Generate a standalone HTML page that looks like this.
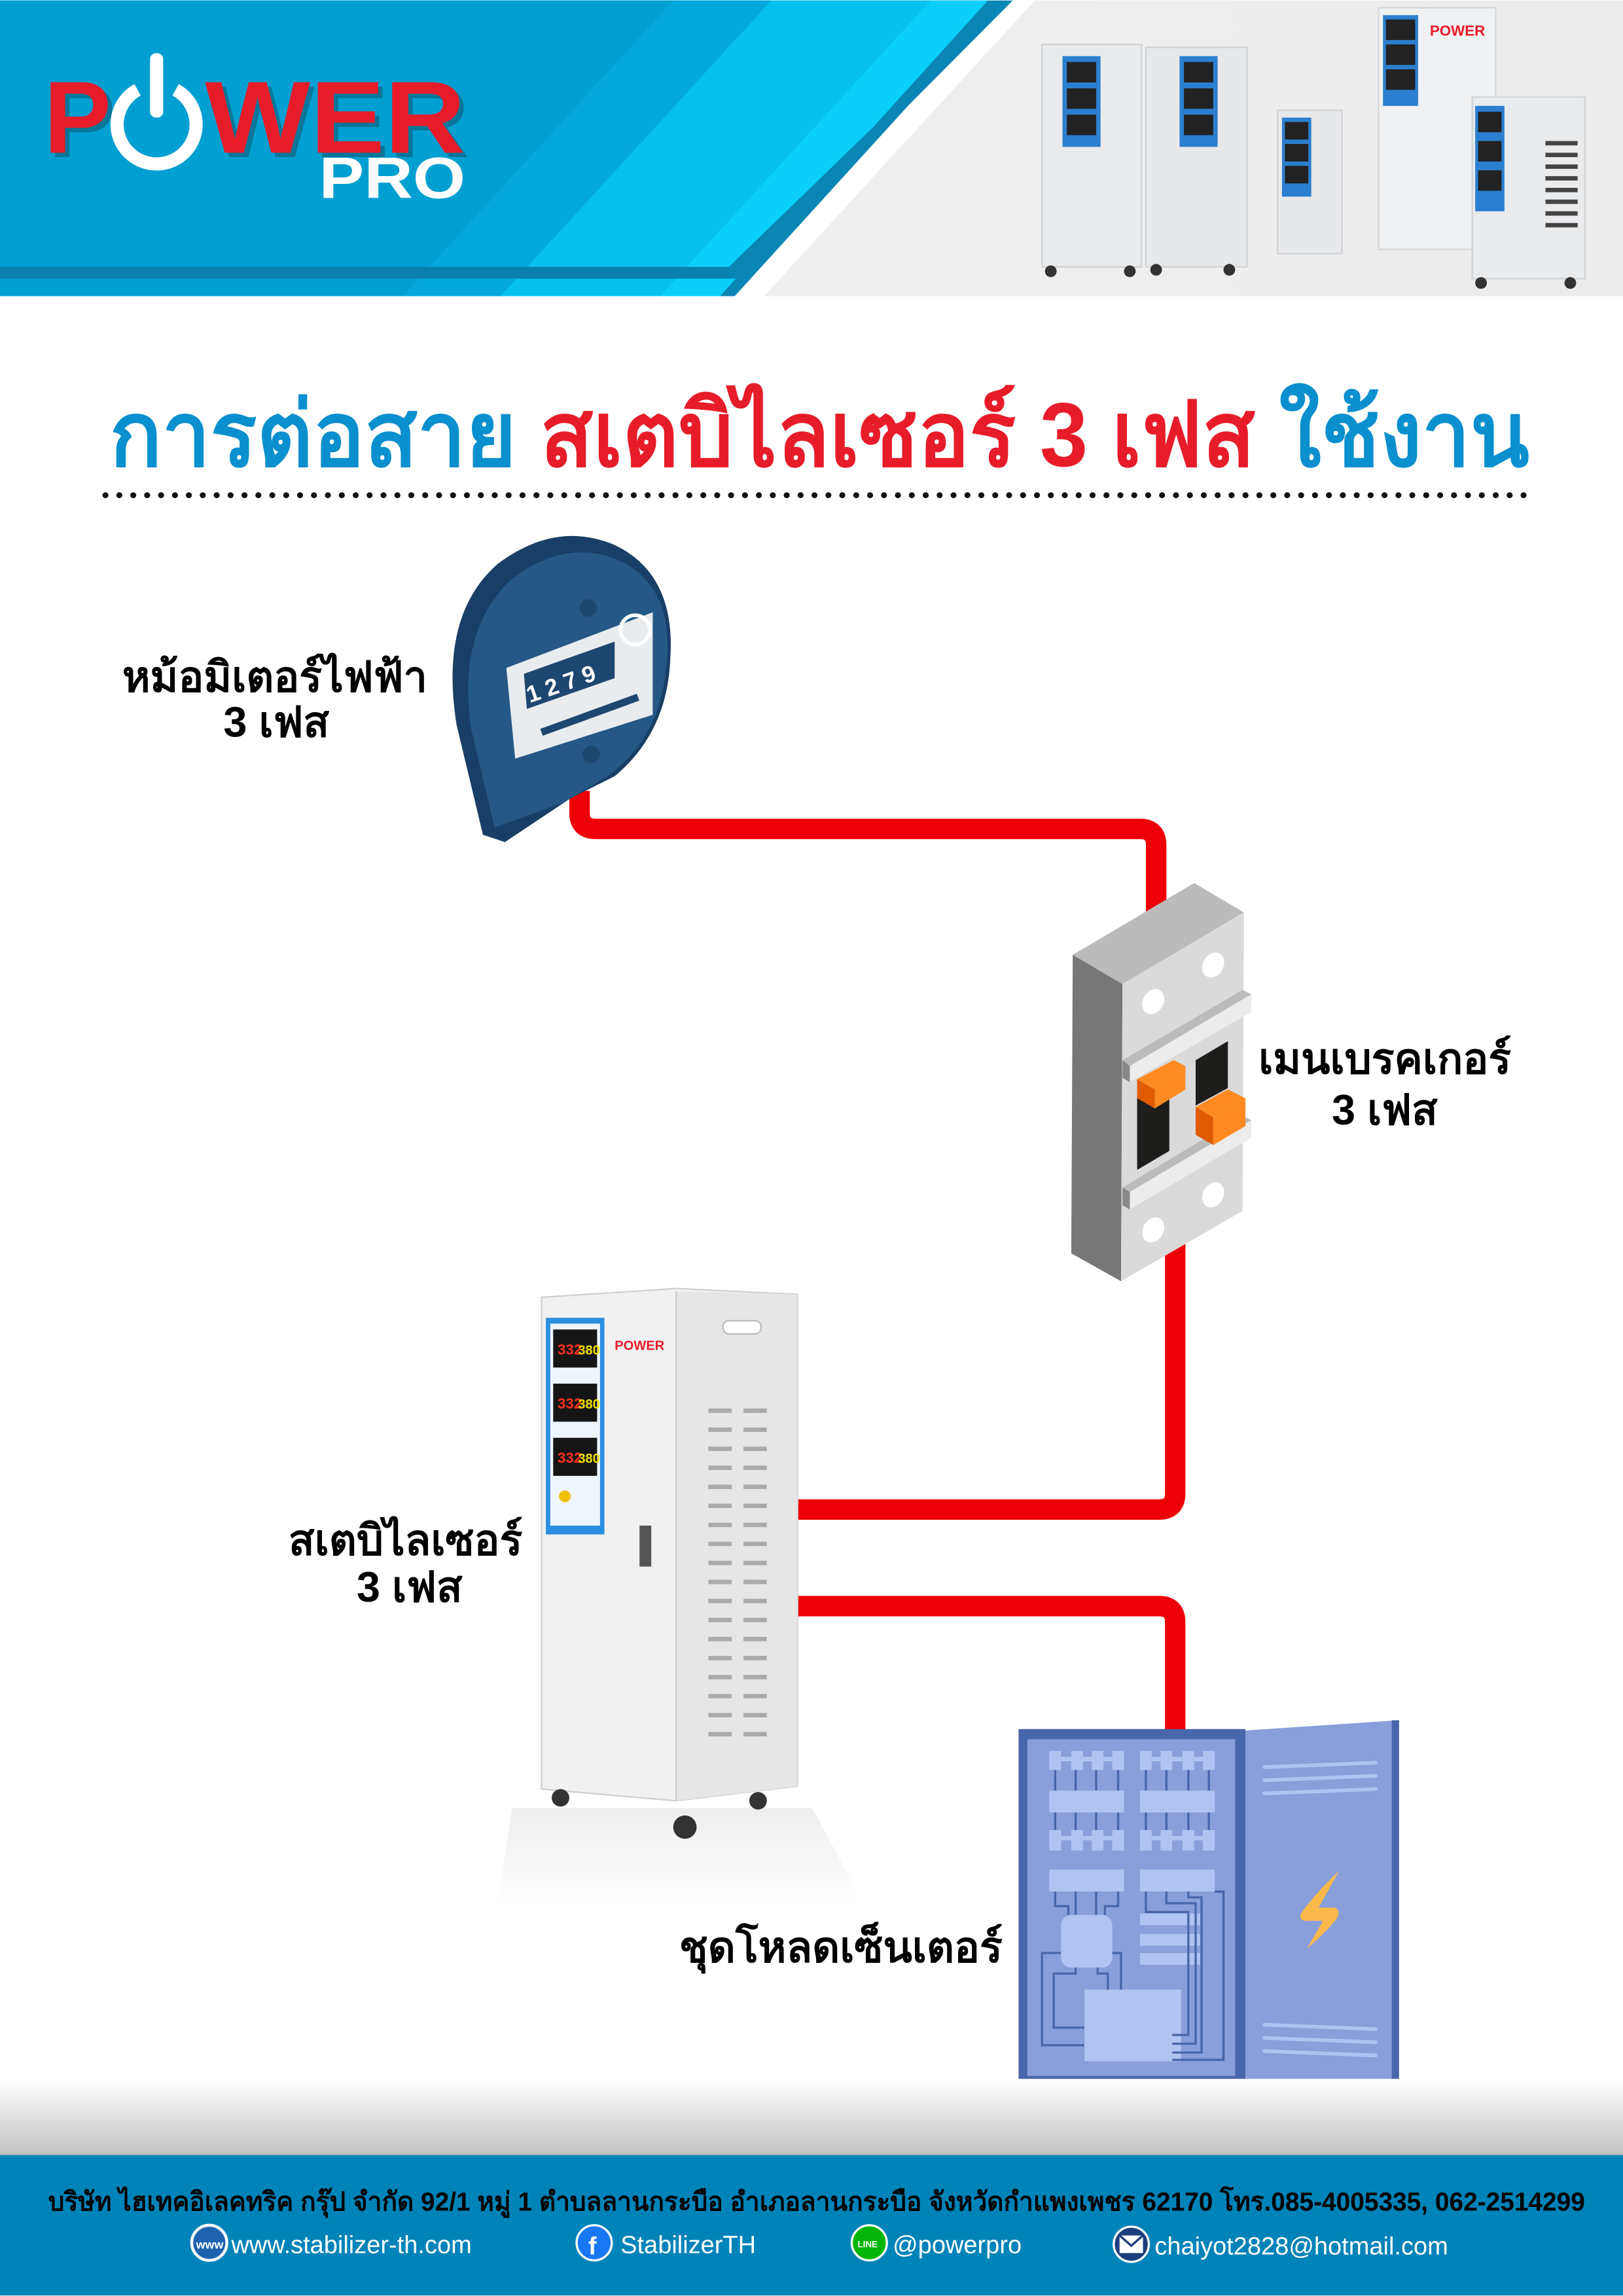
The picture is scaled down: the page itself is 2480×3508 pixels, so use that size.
<!DOCTYPE html>
<html><head><meta charset="utf-8"><style>
html,body{margin:0;padding:0;background:#fff}
svg{display:block}
text{font-family:"Liberation Sans","DejaVu Sans",sans-serif;font-weight:bold}
</style></head><body>
<svg width="2480" height="3508" viewBox="0 0 1109 1568" xmlns="http://www.w3.org/2000/svg">
<defs>
<linearGradient id="fg" x1="0" y1="0" x2="0" y2="1"><stop offset="0" stop-color="#fff"/><stop offset="1" stop-color="#c2c2c2"/></linearGradient>
<linearGradient id="hg" x1="0" y1="0" x2="1" y2="0"><stop offset="0" stop-color="#f2f2f2"/><stop offset="1" stop-color="#ececec"/></linearGradient>
<linearGradient id="sh" x1="0" y1="0" x2="0" y2="1"><stop offset="0" stop-color="#eeeeee"/><stop offset="1" stop-color="#ffffff"/></linearGradient>
</defs>
<!-- header -->
<rect x="0" y="0" width="1109" height="202" fill="url(#hg)"/>
<polygon points="0,0 707,0 522,202 0,202" fill="#ffffff"/>
<polygon points="0,0 686,0 502,202 0,202" fill="#0a86b4"/>
<polygon points="0,0 675,0 492,202 0,202" fill="#0bcffa"/>
<polygon points="0,0 636,0 451,202 0,202" fill="#07c0ee"/>
<polygon points="0,0 527,0 342,202 0,202" fill="#03a8dc"/>
<polygon points="0,0 460,0 275,202 0,202" fill="#009fd2"/>
<rect x="0" y="182" width="500" height="8" fill="#0a80ad"/>
<polygon points="498,182 686,0 692,0 503,190 498,190" fill="#0a86b4"/>
<!-- logo -->
<g opacity="0.3" transform="translate(3,3)">
<text x="30" y="104" font-size="70" fill="#1a1a1a" textLength="46" lengthAdjust="spacingAndGlyphs">P</text>
<text x="140" y="104" font-size="70" fill="#1a1a1a" textLength="178" lengthAdjust="spacingAndGlyphs">WER</text>
</g>
<text x="30" y="104" font-size="70" fill="#e71c2a" textLength="46" lengthAdjust="spacingAndGlyphs">P</text>
<text x="140" y="104" font-size="70" fill="#e71c2a" textLength="178" lengthAdjust="spacingAndGlyphs">WER</text>
<path d="M94 61 A27 27 0 1 0 120 61" fill="none" stroke="#fff" stroke-width="9"/>
<rect x="102.5" y="36" width="9" height="44" rx="4" fill="#fff"/>
<text x="218" y="135" font-size="40" fill="#fff" textLength="100" lengthAdjust="spacingAndGlyphs">PRO</text>
<!-- products -->
<g>
<rect x="712" y="30" width="68" height="152" fill="#e8eaec" stroke="#cfd2d6"/>
<rect x="726" y="38" width="26" height="62" fill="#2b7fd0"/><rect x="729" y="42" width="20" height="14" fill="#222"/><rect x="729" y="60" width="20" height="14" fill="#222"/><rect x="729" y="78" width="20" height="14" fill="#222"/>
<rect x="783" y="32" width="69" height="150" fill="#e6e8ea" stroke="#cfd2d6"/>
<rect x="806" y="38" width="26" height="62" fill="#2b7fd0"/><rect x="809" y="42" width="20" height="14" fill="#222"/><rect x="809" y="60" width="20" height="14" fill="#222"/><rect x="809" y="78" width="20" height="14" fill="#222"/>
<rect x="873" y="75" width="44" height="98" fill="#e6e8ea" stroke="#cfd2d6"/>
<rect x="876" y="80" width="20" height="54" fill="#2b7fd0"/><rect x="878" y="83" width="16" height="12" fill="#222"/><rect x="878" y="98" width="16" height="12" fill="#222"/><rect x="878" y="113" width="16" height="12" fill="#222"/>
<rect x="942" y="5" width="80" height="165" fill="#f0f1f2" stroke="#d6d8da"/>
<rect x="945" y="10" width="24" height="62" fill="#2b7fd0"/><rect x="947" y="13" width="20" height="14" fill="#222"/><rect x="947" y="30" width="20" height="14" fill="#222"/><rect x="947" y="47" width="20" height="14" fill="#222"/>
<text x="977" y="24" font-size="10" fill="#e71c2a">POWER</text>
<rect x="1006" y="66" width="77" height="124" fill="#e9ebed" stroke="#cfd2d6"/>
<rect x="1008" y="72" width="20" height="72" fill="#2b7fd0"/><rect x="1010" y="76" width="16" height="14" fill="#222"/><rect x="1010" y="96" width="16" height="14" fill="#222"/><rect x="1010" y="116" width="16" height="14" fill="#222"/>
<g fill="#444"><rect x="1056" y="96" width="22" height="3"/><rect x="1056" y="104" width="22" height="3"/><rect x="1056" y="112" width="22" height="3"/><rect x="1056" y="120" width="22" height="3"/><rect x="1056" y="128" width="22" height="3"/><rect x="1056" y="136" width="22" height="3"/><rect x="1056" y="144" width="22" height="3"/><rect x="1056" y="152" width="22" height="3"/></g>
<g fill="#333"><circle cx="718" cy="185" r="4"/><circle cx="772" cy="185" r="4"/><circle cx="790" cy="184" r="4"/><circle cx="840" cy="184" r="4"/><circle cx="1012" cy="193" r="4"/><circle cx="1073" cy="193" r="4"/></g>
</g>
<!-- title -->
<text x="75" y="318" font-size="62" textLength="970" lengthAdjust="spacingAndGlyphs"><tspan fill="#0a8fcf">การต่อสาย </tspan><tspan fill="#e71c2a">สเตบิไลเซอร์ 3 เฟส </tspan><tspan fill="#0a8fcf">ใช้งาน</tspan></text>
<line x1="72" y1="338" x2="1045" y2="338" stroke="#111" stroke-width="4" stroke-linecap="round" stroke-dasharray="0.1 9.4"/>
<!-- wires -->
<g fill="none" stroke="#ee0008" stroke-width="14">
<path d="M396 540 V555 Q396 566 407 566 H779 Q790 566 790 577 V626"/>
<path d="M803 845 V1020 Q803 1031 792 1031 H540"/>
<path d="M540 1097 H792 Q803 1097 803 1108 V1183"/>
</g>
<!-- meter -->
<path d="M330 570 L312 495 Q300 420 340 385 Q380 355 420 372 Q462 392 458 450 Q456 500 420 530 L390 545 L345 575 Z" fill="#1a3f66"/>
<path d="M338 565 L322 498 Q312 430 350 395 Q390 365 428 385 Q462 405 455 458 Q450 505 415 530 L385 548 Z" fill="#255887"/>
<polygon points="346,456 446,418 446,488 352,518" fill="#e9ecef"/>
<polygon points="358,460 420,438 420,463 360,484" fill="#1e4770"/>
<g font-size="16" fill="#fff"><text x="362" y="480" transform="rotate(-19 362 480)">1 2 7 9</text></g>
<line x1="370" y1="500" x2="436" y2="476" stroke="#1e4770" stroke-width="5"/>
<circle cx="434" cy="430" r="10" fill="none" stroke="#fff" stroke-width="2.5"/>
<circle cx="402" cy="415" r="6" fill="#1e4770"/><circle cx="404" cy="515" r="6" fill="#1e4770"/>
<text x="292" y="472" font-size="29" text-anchor="end" fill="#000">หม้อมิเตอร์ไฟฟ้า</text>
<text x="225" y="503" font-size="29" text-anchor="end" fill="#000">3 เฟส</text>
<!-- breaker -->
<polygon points="733,652 767,672 766,875 732,856" fill="#777"/>
<polygon points="733,652 816,603 850,623 767,672" fill="#bbb"/>
<polygon points="767,672 850,623 849,827 766,875" fill="#dadada"/>
<ellipse cx="829" cy="659" rx="7" ry="9" fill="#fff" transform="rotate(30 829 659)"/>
<ellipse cx="788" cy="684" rx="7" ry="9" fill="#fff" transform="rotate(30 788 684)"/>
<ellipse cx="829" cy="816" rx="7" ry="9" fill="#fff" transform="rotate(30 829 816)"/>
<ellipse cx="788" cy="840" rx="7" ry="9" fill="#fff" transform="rotate(30 788 840)"/>
<polygon points="777,750 799,738 799,786 777,799" fill="#1d1d1b"/>
<polygon points="817,724 839,711 839,743 817,755" fill="#1d1d1b"/>
<polygon points="767,724 849,676 855,679 772,728" fill="#bbb"/>
<polygon points="772,728 855,679 855,691 772,739" fill="#ececec"/><polygon points="767,724 772,728 772,739 767,736" fill="#888"/>
<polygon points="767,811 849,762 855,765 772,814" fill="#bbb"/>
<polygon points="772,814 855,765 855,777 772,826" fill="#ececec"/><polygon points="767,811 772,814 772,826 767,823" fill="#888"/>
<polygon points="777,737 802,724 810,728 789,744" fill="#ff8a22"/>
<polygon points="777,737 789,744 789,757 777,750" fill="#e05a00"/>
<polygon points="789,744 810,728 810,744 789,757" fill="#ff8a22"/>
<polygon points="817,756 839,744 851,750 829,763" fill="#ff8a22"/>
<polygon points="817,756 829,763 829,782 817,775" fill="#e05a00"/>
<polygon points="829,763 851,750 851,769 829,782" fill="#ff8a22"/>
<text x="860" y="733" font-size="29" fill="#000">เมนเบรคเกอร์</text>
<text x="910" y="768" font-size="29" fill="#000">3 เฟส</text>
<!-- stabilizer -->
<polygon points="350,1235 555,1235 590,1300 340,1300" fill="url(#sh)"/>
<polygon points="370,886 462,880 545,884 545,1220 462,1230 370,1222" fill="#f1f1f1" stroke="#d0d0d0"/>
<polygon points="462,882 545,884 545,1220 462,1230" fill="#e6e6e6"/>
<line x1="462" y1="882" x2="462" y2="1230" stroke="#c8c8c8"/>
<rect x="373" y="900" width="40" height="148" fill="#2a8fe0"/>
<rect x="376" y="904" width="34" height="138" fill="#eef5fb"/>
<rect x="378" y="908" width="30" height="26" fill="#151515"/><text x="381" y="925" font-size="10" fill="#ff3020">332</text><text x="395" y="925" font-size="9" fill="#f0e000">380</text>
<rect x="378" y="945" width="30" height="26" fill="#151515"/><text x="381" y="962" font-size="10" fill="#ff3020">332</text><text x="395" y="962" font-size="9" fill="#f0e000">380</text>
<rect x="378" y="982" width="30" height="26" fill="#151515"/><text x="381" y="999" font-size="10" fill="#ff3020">332</text><text x="395" y="999" font-size="9" fill="#f0e000">380</text>
<circle cx="386" cy="1022" r="4" fill="#f0c000"/>
<text x="420" y="922" font-size="9" fill="#e71c2a">POWER</text>
<rect x="494" y="902" width="26" height="9" rx="4" fill="#fff" stroke="#bbb"/>
<g fill="#aaa">
<rect x="484" y="962" width="16" height="3"/><rect x="508" y="962" width="16" height="3"/>
<rect x="484" y="975" width="16" height="3"/><rect x="508" y="975" width="16" height="3"/>
<rect x="484" y="988" width="16" height="3"/><rect x="508" y="988" width="16" height="3"/>
<rect x="484" y="1001" width="16" height="3"/><rect x="508" y="1001" width="16" height="3"/>
<rect x="484" y="1014" width="16" height="3"/><rect x="508" y="1014" width="16" height="3"/>
<rect x="484" y="1027" width="16" height="3"/><rect x="508" y="1027" width="16" height="3"/>
<rect x="484" y="1040" width="16" height="3"/><rect x="508" y="1040" width="16" height="3"/>
<rect x="484" y="1053" width="16" height="3"/><rect x="508" y="1053" width="16" height="3"/>
<rect x="484" y="1066" width="16" height="3"/><rect x="508" y="1066" width="16" height="3"/>
<rect x="484" y="1079" width="16" height="3"/><rect x="508" y="1079" width="16" height="3"/>
<rect x="484" y="1092" width="16" height="3"/><rect x="508" y="1092" width="16" height="3"/>
<rect x="484" y="1105" width="16" height="3"/><rect x="508" y="1105" width="16" height="3"/>
<rect x="484" y="1118" width="16" height="3"/><rect x="508" y="1118" width="16" height="3"/>
<rect x="484" y="1131" width="16" height="3"/><rect x="508" y="1131" width="16" height="3"/>
<rect x="484" y="1144" width="16" height="3"/><rect x="508" y="1144" width="16" height="3"/>
<rect x="484" y="1157" width="16" height="3"/><rect x="508" y="1157" width="16" height="3"/>
<rect x="484" y="1170" width="16" height="3"/><rect x="508" y="1170" width="16" height="3"/>
<rect x="484" y="1183" width="16" height="3"/><rect x="508" y="1183" width="16" height="3"/>
</g>
<rect x="437" y="1042" width="8" height="28" fill="#555"/>
<g fill="#333"><circle cx="383" cy="1228" r="6"/><circle cx="468" cy="1248" r="8"/><circle cx="518" cy="1230" r="6"/></g>
<text x="357" y="1062" font-size="29" text-anchor="end" fill="#000">สเตบิไลเซอร์</text>
<text x="316" y="1094" font-size="29" text-anchor="end" fill="#000">3 เฟส</text>
<!-- load center -->
<polygon points="851,1182 955,1175 955,1428 851,1424" fill="#889fdb"/>
<rect x="951" y="1175" width="5" height="253" fill="#4866ab"/>
<rect x="696" y="1181" width="155" height="243" fill="#4866ab"/>
<rect x="702" y="1188" width="142" height="230" fill="#889fdb"/>
<g fill="#afc4f2">
<rect x="717" y="1196" width="8" height="13"/><rect x="732" y="1196" width="8" height="13"/><rect x="746" y="1196" width="8" height="13"/><rect x="760" y="1196" width="8" height="13"/><rect x="717" y="1200" width="51" height="3"/>
<rect x="779" y="1196" width="8" height="13"/><rect x="793" y="1196" width="8" height="13"/><rect x="808" y="1196" width="8" height="13"/><rect x="822" y="1196" width="8" height="13"/><rect x="779" y="1200" width="51" height="3"/>
<rect x="717" y="1223" width="51" height="15"/><rect x="779" y="1223" width="51" height="15"/>
<rect x="717" y="1250" width="8" height="14"/><rect x="732" y="1250" width="8" height="14"/><rect x="746" y="1250" width="8" height="14"/><rect x="760" y="1250" width="8" height="14"/><rect x="717" y="1254" width="51" height="3"/>
<rect x="779" y="1250" width="8" height="14"/><rect x="793" y="1250" width="8" height="14"/><rect x="808" y="1250" width="8" height="14"/><rect x="822" y="1250" width="8" height="14"/><rect x="779" y="1254" width="51" height="3"/>
<rect x="717" y="1277" width="51" height="15"/><rect x="779" y="1277" width="51" height="15"/>
<rect x="725" y="1308" width="35" height="36" rx="7"/>
<rect x="779" y="1307" width="41" height="8"/><rect x="779" y="1321" width="41" height="8"/><rect x="779" y="1334" width="41" height="8"/>
<rect x="741" y="1359" width="66" height="49"/>
</g>
<g fill="none" stroke="#4866ab" stroke-width="1.5">
<path d="M721 1209V1223M735 1209V1223M749 1209V1223M764 1209V1223M783 1209V1223M797 1209V1223M812 1209V1223M826 1209V1223"/>
<path d="M721 1238V1250M735 1238V1250M749 1238V1250M764 1238V1250M783 1238V1250M797 1238V1250M812 1238V1250M826 1238V1250"/>
<path d="M721 1292V1302H730V1308M735 1292V1308M749 1292V1308M764 1292V1302H755V1308"/>
<path d="M783 1292V1306H812V1390H801M797 1292V1300H817V1396H801M812 1292V1296H821V1402H801M830 1292H836V1407H801"/>
<path d="M725 1334H712V1397H741M735 1344V1348H720V1385H741M750 1344V1348H757V1359M760 1334H766V1359"/>
</g>
<g stroke="#afc4f2" stroke-width="2.5" stroke-linecap="round">
<line x1="864" y1="1207" x2="940" y2="1204"/><line x1="864" y1="1216" x2="940" y2="1213"/><line x1="864" y1="1225" x2="940" y2="1222"/>
<line x1="864" y1="1383" x2="940" y2="1386"/><line x1="864" y1="1392" x2="940" y2="1395"/><line x1="864" y1="1401" x2="940" y2="1404"/>
</g>
<path d="M915 1278 Q898 1294 889 1307 Q887 1312 893 1312 L904 1312 L893 1331 Q906 1320 913 1311 Q917 1305 912 1303 L901 1303 Z" fill="#fbb84b"/>
<text x="685" y="1340" font-size="29" text-anchor="end" fill="#000">ชุดโหลดเซ็นเตอร์</text>
<!-- footer -->
<rect x="0" y="1420" width="1109" height="52" fill="url(#fg)"/>
<rect x="0" y="1472" width="1109" height="96" fill="#0083b8"/>
<text x="33" y="1510" font-size="18" fill="#000" textLength="1050" lengthAdjust="spacingAndGlyphs">บริษัท ไฮเทคอิเลคทริค กรุ๊ป จำกัด  92/1 หมู่ 1 ตำบลลานกระบือ อำเภอลานกระบือ จังหวัดกำแพงเพชร 62170 โทร.085-4005335, 062-2514299</text>
<circle cx="143" cy="1532" r="12" fill="#1f63b0" stroke="#fff" stroke-width="2"/>
<text x="134" y="1536" font-size="8" fill="#fff">www</text>
<text x="158" y="1539" font-size="17" fill="#fff" style="font-weight:normal">www.stabilizer-th.com</text>
<circle cx="406" cy="1532" r="12" fill="#1877f2" stroke="#fff" stroke-width="1.5"/>
<text x="402" y="1540" font-size="17" fill="#fff">f</text>
<text x="424" y="1539" font-size="17" fill="#fff" style="font-weight:normal">StabilizerTH</text>
<circle cx="594" cy="1532" r="12" fill="#06b50a" stroke="#fff" stroke-width="1.5"/>
<text x="586" y="1535" font-size="6" fill="#fff">LINE</text>
<text x="610" y="1539" font-size="17" fill="#fff" style="font-weight:normal">@powerpro</text>
<circle cx="773" cy="1533" r="12" fill="#1e3f7e" stroke="#fff" stroke-width="1.5"/>
<rect x="765" y="1527" width="16" height="12" fill="#fff"/><path d="M765 1527 L773 1534 L781 1527" fill="none" stroke="#1e3f7e" stroke-width="1.5"/>
<text x="789" y="1540" font-size="17" fill="#fff" style="font-weight:normal">chaiyot2828@hotmail.com</text>
</svg>
</body></html>
